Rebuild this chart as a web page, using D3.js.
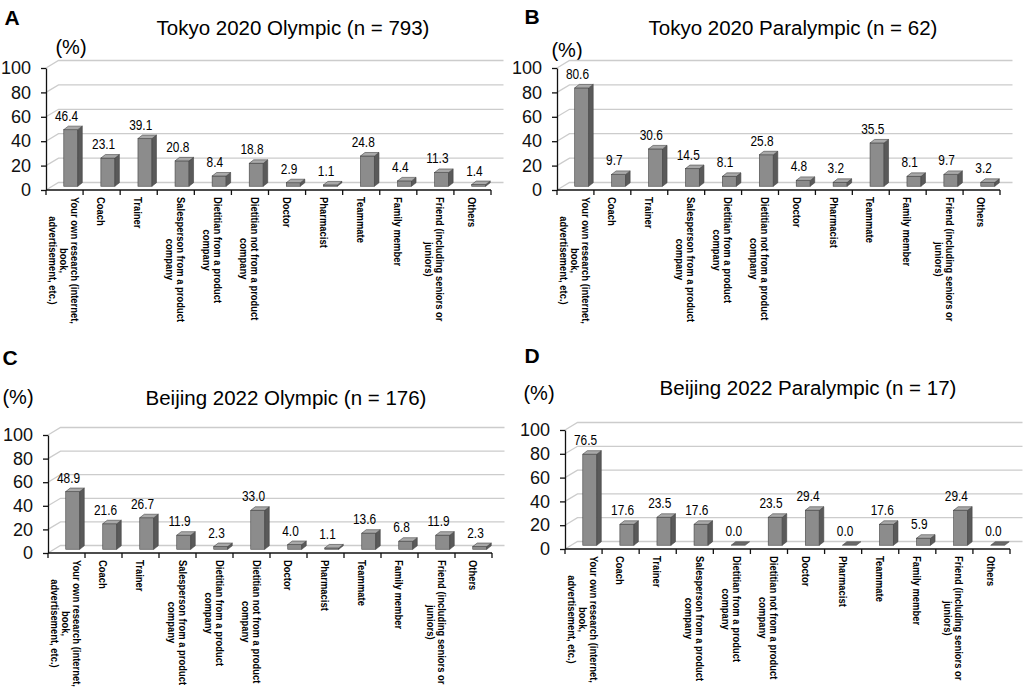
<!DOCTYPE html>
<html>
<head>
<meta charset="utf-8">
<script src="https://cdn.jsdelivr.net/npm/d3@7"></script>
<style>
  body { margin: 0; background: #fff; }
  svg { display: block; font-family: "Liberation Sans", Arial, sans-serif; }
  .grid-line { fill: none; stroke: #cccccc; stroke-width: 1.3; }
  .axis-line { stroke: #111; stroke-width: 1.3; fill: none; }
  .bar-face { stroke: #444; stroke-width: 0.6; }
</style>
</head>
<body>
<script>

// data ////////////////////////////////////

const categories = [
    "Your own research (internet,|book,|advertisement, etc.)",
    "Coach",
    "Trainer",
    "Salesperson from a product|company",
    "Dietitian from a product|company",
    "Dietitian not  from a product|company",
    "Doctor",
    "Pharmacist",
    "Teammate",
    "Family member",
    "Friend (including seniors or|juniors)",
    "Others"
];

const tokyoOlympic    = [46.4, 23.1, 39.1, 20.8, 8.4, 18.8, 2.9, 1.1, 24.8, 4.4, 11.3, 1.4];
const tokyoParalympic = [80.6, 9.7, 30.6, 14.5, 8.1, 25.8, 4.8, 3.2, 35.5, 8.1, 9.7, 3.2];
const beijingOlympic  = [48.9, 21.6, 26.7, 11.9, 2.3, 33.0, 4.0, 1.1, 13.6, 6.8, 11.9, 2.3];
const beijingParalympic = [76.5, 17.6, 23.5, 17.6, 0.0, 23.5, 29.4, 0.0, 17.6, 5.9, 29.4, 0.0];

const panelLetters = ["A", "B", "C", "D"];
const panelTitles = [
    "Tokyo 2020 Olympic (n = 793)",
    "Tokyo 2020 Paralympic (n = 62)",
    "Beijing 2022 Olympic (n = 176)",
    "Beijing 2022 Paralympic (n = 17)"
];
const yTicks = [0, 20, 40, 60, 80, 100];

// layout //////////////////////////////////

const layout = [
    { x0: 46,  x1: 491,  y0: 190, y1: 68,  tx: 293, ty: 27,  lx: 12,  ly: 17,  px: 71,  py: 47 },
    { x0: 557, x1: 1000, y0: 190, y1: 68,  tx: 793, ty: 27,  lx: 532, ly: 16,  px: 567, py: 50 },
    { x0: 48,  x1: 492,  y0: 553, y1: 435, tx: 286, ty: 397, lx: 10,  ly: 357, px: 18,  py: 397 },
    { x0: 565, x1: 1010, y0: 549, y1: 430, tx: 808, ty: 387, lx: 532, ly: 355, px: 539, py: 393 }
];

const depth = { x: 12.5, y: 7.5 };
const bar = { w: 14, dx: 4.5, dy: 3.5 };
const squeeze = 0.82;   // no narrow font installed, so squeeze Liberation Sans

const svg = d3.select("body").append("svg")
    .attr("width", 1026)
    .attr("height", 694);

[tokyoOlympic, tokyoParalympic, beijingOlympic, beijingParalympic]
    .forEach((values, i) => drawPanel(svg.append("g"), values, layout[i], panelLetters[i], panelTitles[i]));

function drawPanel(g, values, L, letter, title) {

    const x = d3.scaleBand()
        .domain(categories)
        .range([L.x0, L.x1])
        .padding(0);

    const y = d3.scaleLinear()
        .domain([0, 100])
        .range([L.y0, L.y1]);

    // texts

    g.append("text")
        .attr("x", L.lx).attr("y", L.ly)
        .attr("text-anchor", "middle")
        .attr("dominant-baseline", "central")
        .style("font-size", "21px")
        .style("font-weight", "bold")
        .text(letter);

    g.append("text")
        .attr("x", L.tx).attr("y", L.ty)
        .attr("text-anchor", "middle")
        .attr("dominant-baseline", "central")
        .style("font-size", "20.5px")
        .text(title);

    g.append("text")
        .attr("x", L.px).attr("y", L.py)
        .attr("text-anchor", "middle")
        .attr("dominant-baseline", "central")
        .style("font-size", "20px")
        .text("(%)");

    // back wall grid lines

    g.append("g")
        .selectAll("path")
        .data(yTicks)
        .join("path")
        .attr("class", "grid-line")
        .attr("d", d => `M${L.x0},${y(d)} L${L.x0 + depth.x},${y(d) - depth.y} L${L.x1 + depth.x},${y(d) - depth.y}`);

    // bars

    const bottom = L.y0 - depth.y / 2;
    const top = d => y(d) - depth.y / 2;
    const center = i => x(categories[i]) + x.bandwidth() / 2;

    g.append("g")
        .selectAll("g")
        .data(values)
        .join("g")
        .each(function (d, i) {
            const sel = d3.select(this);
            const l = center(i) + depth.x / 2 - bar.w / 2;
            const r = l + bar.w;
            const t = top(d);
            if (d > 0) {
                sel.append("rect")
                    .attr("class", "bar-face")
                    .attr("x", l).attr("y", t)
                    .attr("width", bar.w)
                    .attr("height", bottom - t)
                    .attr("fill", "#8c8c8c");
                sel.append("path")
                    .attr("class", "bar-face")
                    .attr("d", `M${r},${t} L${r + bar.dx},${t - bar.dy} L${r + bar.dx},${bottom - bar.dy} L${r},${bottom} Z`)
                    .attr("fill", "#5a5a5a");
            }
            sel.append("path")
                .attr("class", "bar-face")
                .attr("d", `M${l},${t} L${l + bar.dx},${t - bar.dy} L${r + bar.dx},${t - bar.dy} L${r},${t} Z`)
                .attr("fill", d > 0 ? "#a9a9a9" : "#6a6a6a");
        });

    // value labels

    g.append("g")
        .selectAll("text")
        .data(values)
        .join("text")
        .attr("transform", (d, i) => `translate(${center(i) + 2}, ${top(d) - bar.dy - 5.5}) scale(${squeeze}, 1)`)
        .attr("text-anchor", "middle")
        .style("font-size", "14.5px")
        .text(d => d.toFixed(1));

    // y axis

    const yAxis = d3.axisLeft(y)
        .tickValues(yTicks)
        .tickSize(5)
        .tickSizeOuter(0)
        .tickPadding(10);

    g.append("g")
        .attr("transform", `translate(${L.x0}, 0)`)
        .call(yAxis)
        .call(a => a.select(".domain").attr("stroke", "#111").attr("stroke-width", 1.3))
        .call(a => a.selectAll(".tick line").attr("stroke", "#111").attr("stroke-width", 1.3))
        .call(a => a.selectAll(".tick text")
            .attr("fill", "#111")
            .style("font-size", "18px")
            .style("font-family", "'Liberation Sans', Arial, sans-serif"));

    // x axis

    g.append("line")
        .attr("class", "axis-line")
        .attr("x1", L.x0).attr("x2", L.x1)
        .attr("y1", L.y0).attr("y2", L.y0);

    g.append("g")
        .selectAll("line")
        .data(categories.map(c => x(c)).concat([x.range()[1]]))
        .join("line")
        .attr("class", "axis-line")
        .attr("x1", d => d).attr("x2", d => d)
        .attr("y1", L.y0).attr("y2", L.y0 + 5);

    // category labels, rotated

    const lineH = 11;
    const labels = g.append("g")
        .selectAll("g")
        .data(categories)
        .join("g")
        .attr("transform", d => `translate(${x(d) + x.bandwidth() / 2}, ${L.y0 + 7}) rotate(90) scale(${squeeze}, 1)`);

    labels.each(function (d) {
        const lines = d.split("|");
        const texts = d3.select(this).selectAll("text")
            .data(lines)
            .join("text")
            .attr("y", (s, k) => (k - (lines.length - 1) / 2) * lineH)
            .attr("dominant-baseline", "central")
            .attr("text-anchor", "middle")
            .style("font-size", "11.5px")
            .style("font-weight", "bold")
            .text(s => s);
        const len = d3.max(texts.nodes(), n => n.getComputedTextLength());
        texts.attr("x", len / 2);
    });
}

</script>
</body>
</html>
